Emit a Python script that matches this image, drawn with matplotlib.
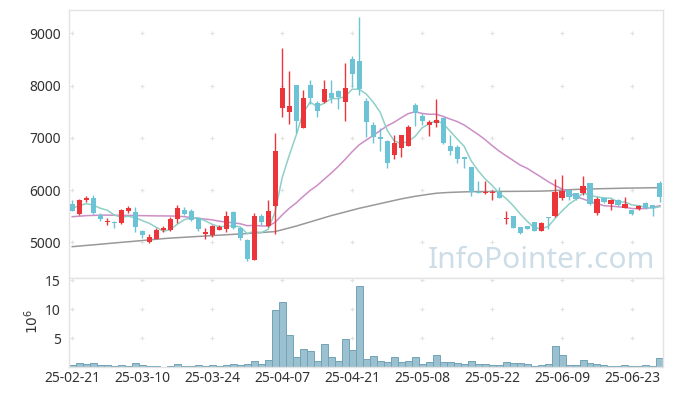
import numpy as np
import matplotlib
matplotlib.use('Agg')
import matplotlib.pyplot as plt

plt.rcParams['font.family'] = ['Noto Sans', 'DejaVu Sans']

# tick labels every 10 trading days
tick_labels = ['25-02-21', '25-03-10', '25-03-24', '25-04-07', '25-04-21',
               '25-05-08', '25-05-22', '25-06-09', '25-06-23']

opens = [5730, 5550, 5800, 5840, 5530, 5380, 5380, 5360, 5600, 5580,
         5220, 5000, 5070, 5240, 5240, 5450, 5620, 5600, 5460, 5160,
         5140, 5240, 5250, 5580, 5280, 5050, 4670, 5500, 5310, 5700,
         7580, 7500, 8010, 7190, 8010, 7660, 7690, 7860, 7900, 7690,
         8500, 8470, 7700, 7240, 7010, 6940, 6670, 6810, 6850, 7630,
         7420, 7250, 7290, 7380, 6840, 6820, 6630, 6440, 5970, 5950,
         5950, 5970, 5440, 5500, 5290, 5310, 5380, 5220, 5490, 5510,
         5840, 6000, 5940, 5950, 6130, 5560, 5850, 5740, 5810, 5660,
         5620, 5645, 5745, 5715, 6140]
highs = [5810, 5820, 5880, 5900, 5570, 5470, 5410, 5640, 5700, 5680,
         5230, 5150, 5270, 5310, 5490, 5710, 5680, 5640, 5470, 5280,
         5340, 5340, 5590, 5600, 5290, 5060, 5560, 5540, 5810, 7100,
         8710, 8270, 8020, 7910, 8100, 7700, 8110, 8110, 7910, 8440,
         8560, 9310, 7760, 7300, 7180, 6950, 7050, 7060, 7250, 7660,
         7480, 7340, 7740, 7390, 7050, 6860, 6630, 6450, 6170, 6170,
         6010, 6060, 5590, 5510, 5300, 5320, 5390, 5380, 5490, 6210,
         6290, 6010, 5950, 6270, 6140, 5860, 5860, 5830, 5830, 5860,
         5620, 5710, 5780, 5720, 6180]
lows = [5590, 5530, 5770, 5550, 5400, 5330, 5280, 5350, 5570, 5200,
        5080, 4990, 5060, 5200, 5210, 5370, 5520, 5400, 5210, 5060,
        5110, 5230, 5200, 5250, 5040, 4640, 4660, 5340, 5300, 5150,
        7390, 7260, 7090, 7180, 7640, 7390, 7660, 7660, 7550, 7320,
        7970, 7820, 7010, 6900, 6750, 6420, 6590, 6640, 6840, 7230,
        7250, 7030, 7210, 6890, 6670, 6520, 6420, 5890, 5940, 5920,
        5810, 5840, 5350, 5270, 5160, 5250, 5210, 5210, 5250, 5490,
        5810, 5800, 5800, 5900, 5720, 5520, 5760, 5620, 5700, 5650,
        5530, 5620, 5640, 5500, 5770]
closes = [5600, 5810, 5850, 5560, 5440, 5410, 5360, 5620, 5660, 5300,
          5140, 5100, 5240, 5280, 5450, 5650, 5540, 5430, 5250, 5190,
          5310, 5300, 5500, 5280, 5080, 4680, 5500, 5380, 5600, 6750,
          7950, 7610, 7330, 7760, 7770, 7520, 7930, 7760, 7780, 7950,
          8230, 7930, 7310, 7010, 6980, 6510, 6900, 7050, 7200, 7470,
          7330, 7300, 7350, 6910, 6750, 6590, 6600, 5970, 5950, 5970,
          5965, 5850, 5460, 5280, 5180, 5260, 5220, 5370, 5465, 5960,
          5980, 5870, 5835, 6080, 5730, 5830, 5770, 5810, 5715, 5730,
          5550, 5695, 5650, 5650, 5860]

# volume in millions
volume = [0.34, 0.69, 0.5, 0.69, 0.34, 0.34, 0.17, 0.34, 0.17, 0.69,
          0.34, 0.17, 0.17, 0.05, 0.17, 0.5, 0.17, 0.17, 0.34, 0.17,
          0.34, 0.17, 0.34, 0.5, 0.34, 0.5, 1.03, 0.5, 1.2, 9.94,
          11.3, 5.49, 1.71, 3.09, 2.8, 1.03, 3.94, 1.71, 1.03, 4.8,
          2.91, 13.94, 1.37, 1.89, 1.03, 0.86, 1.71, 0.86, 1.03, 1.71,
          0.5, 0.86, 2.06, 0.86, 0.86, 0.69, 0.5, 1.03, 0.5, 0.5,
          0.34, 0.34, 0.86, 0.69, 0.69, 0.5, 0.17, 0.34, 0.5, 3.6,
          2.06, 0.34, 0.34, 1.2, 0.69, 0.5, 0.34, 0.17, 0.17, 0.34,
          0.17, 0.17, 0.34, 0.17, 1.54]

# moving average lines
ma5 = [5650, 5700, 5740, 5710, 5652, 5614, 5524, 5478, 5498, 5470,
       5416, 5364, 5288, 5212, 5242, 5344, 5432, 5470, 5464, 5412,
       5344, 5296, 5310, 5316, 5294, 5168, 5208, 5184, 5248, 5582,
       6236, 6658, 7048, 7480, 7684, 7598, 7662, 7748, 7752, 7788,
       7930, 7930, 7840, 7686, 7492, 7148, 6942, 6890, 6928, 7026,
       7190, 7270, 7330, 7272, 7128, 6980, 6840, 6564, 6372, 6216,
       6091, 5941, 5839, 5705, 5547, 5406, 5280, 5262, 5299, 5455,
       5599, 5729, 5822, 5945, 5899, 5869, 5849, 5844, 5771, 5771,
       5715, 5700, 5668, 5655, 5681]
ma20 = [5490, 5500, 5510, 5515, 5520, 5520, 5518, 5515, 5515, 5512,
        5510, 5508, 5505, 5505, 5503, 5500, 5490, 5475, 5460, 5444,
        5430, 5404, 5387, 5373, 5355, 5318, 5325, 5313, 5310, 5383,
        5523, 5649, 5753, 5877, 5993, 6087, 6206, 6323, 6449, 6587,
        6733, 6865, 6955, 7042, 7137, 7228, 7298, 7382, 7462, 7498,
        7467, 7451, 7452, 7410, 7359, 7312, 7246, 7156, 7065, 6966,
        6852, 6748, 6656, 6569, 6479, 6417, 6333, 6249, 6162, 6087,
        6019, 5948, 5872, 5830, 5779, 5741, 5700, 5692, 5680, 5668,
        5647, 5640, 5649, 5668, 5702]
ma60 = [4916, 4928, 4940, 4951, 4963, 4975, 4987, 4999, 5010, 5022,
        5034, 5046, 5058, 5070, 5080, 5088, 5096, 5104, 5112, 5120,
        5128, 5136, 5144, 5152, 5160, 5168, 5176, 5186, 5196, 5205,
        5240, 5275, 5310, 5350, 5390, 5430, 5470, 5510, 5545, 5580,
        5615, 5650, 5680, 5710, 5740, 5770, 5800, 5830, 5855, 5880,
        5900, 5920, 5938, 5948, 5955, 5960, 5965, 5968, 5970, 5971,
        5972, 5973, 5974, 5975, 5976, 5977, 5978, 5980, 5984, 5990,
        5998, 6006, 6012, 6016, 6020, 6024, 6027, 6030, 6033, 6036,
        6038, 6040, 6042, 6044, 6046]

up_col = '#ec353b'
down_col = '#6cc3d6'
frame_col = '#e3e3e3'
grid_col = '#e2e2e2'
text_col = '#333333'

o = np.array(opens)
h = np.array(highs)
l = np.array(lows)
c = np.array(closes)
x = np.arange(len(c))
tick_pos = np.arange(0, len(c), 10)

fig = plt.figure(figsize=(6.73, 3.96), dpi=100)
ax = fig.add_axes([0.103, 0.2987, 0.882, 0.676])
axv = fig.add_axes([0.103, 0.0725, 0.882, 0.2263], sharex=ax)

# grid crosses
for yy in [5000, 6000, 7000, 8000, 9000]:
	ax.plot(tick_pos, [yy] * len(tick_pos), '+', color=grid_col, ms=3.5, mew=0.8, zorder=0)
for yy in [5, 10, 15]:
	axv.plot(tick_pos, [yy] * len(tick_pos), '+', color=grid_col, ms=3.5, mew=0.8, zorder=0)

# moving averages
ax.plot(x, ma60, color='#999999', lw=1.1, zorder=1)
ax.plot(x, ma20, color='#cc8ec6', lw=1.1, zorder=1)
ax.plot(x, ma5, color='#8fd0c6', lw=1.1, zorder=1)

# candles
cols = np.where(c >= o, up_col, down_col)
ax.vlines(x, l, h, colors=cols, lw=1, zorder=2)
body_low = np.minimum(o, c)
body_h = np.maximum(np.abs(c - o), 18)
ax.bar(x, body_h, bottom=body_low, width=0.72, color=cols, zorder=3)

ax.text(0.987, 0.036, 'InfoPointer.com', transform=ax.transAxes, ha='right', va='baseline',
        fontsize=21.5, color='#cddde8', zorder=0)

# volume
axv.bar(x, volume, width=1.0, color='#9bc0d0', edgecolor='#72a3b7', lw=0.7)

ax.set_xlim(-0.42, len(c) - 0.58)
ax.set_ylim(4322, 9446)
axv.set_ylim(0, 15.45)

ax.set_yticks([5000, 6000, 7000, 8000, 9000])
axv.set_yticks([5, 10, 15])
axv.set_xticks(tick_pos)
axv.set_xticklabels(tick_labels)
ax.tick_params(axis='x', labelbottom=False, length=0)
ax.tick_params(axis='y', length=0, pad=6, labelsize=10, labelcolor=text_col)
axv.tick_params(length=0, labelsize=10, labelcolor=text_col)
axv.tick_params(axis='y', pad=6)
axv.tick_params(axis='x', pad=3)

for a in [ax, axv]:
	for s in a.spines.values():
		s.set_color(frame_col)
		s.set_linewidth(1)

fig.text(33 / 673, 1 - 321 / 396, r'$10^6$', rotation=90, ha='center', va='center',
         fontsize=10, color=text_col)

fig.savefig('out.png', dpi=100)
